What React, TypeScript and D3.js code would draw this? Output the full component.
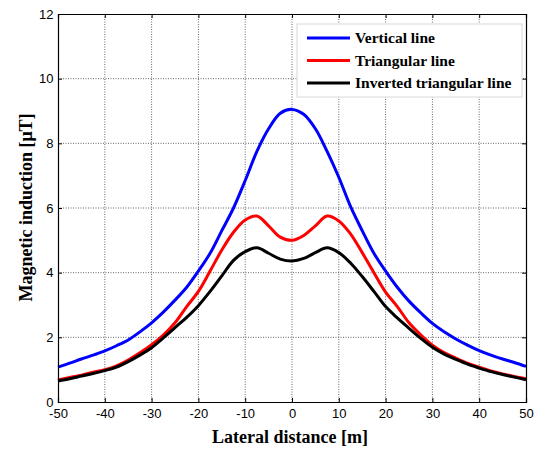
import React, { useRef, useEffect } from "react";
import * as d3 from "d3";

// lateral distance [m]
const distances = [
  -50, -47.5, -45, -42.5, -40, -37.5, -35, -32.5, -30, -27.5, -25, -22.5, -20, -17.5, -15, -12.5, -10, -7.5, -5, -2.5,
  0, 2.5, 5, 7.5, 10, 12.5, 15, 17.5, 20, 22.5, 25, 27.5, 30, 32.5, 35, 37.5, 40, 42.5, 45, 47.5, 50,
];

// magnetic induction [uT]
const verticalLine = [
  1.08, 1.2, 1.33, 1.45, 1.58, 1.74, 1.92, 2.17, 2.45, 2.78, 3.15, 3.55, 4.05, 4.6, 5.3, 6.0, 6.85, 7.75, 8.45, 8.93,
  9.05, 8.9, 8.45, 7.75, 6.95, 6.05, 5.3, 4.6, 4.05, 3.55, 3.12, 2.76, 2.43, 2.17, 1.95, 1.76, 1.59, 1.45, 1.33, 1.22, 1.1,
];
const triangularLine = [
  0.68, 0.76, 0.83, 0.92, 1.0, 1.12, 1.3, 1.52, 1.77, 2.07, 2.45, 2.95, 3.42, 4.05, 4.7, 5.25, 5.63, 5.75, 5.45, 5.1,
  5.0, 5.15, 5.45, 5.75, 5.6, 5.2, 4.62, 4.0, 3.4, 2.95, 2.45, 2.08, 1.76, 1.53, 1.36, 1.2, 1.08, 0.96, 0.87, 0.79, 0.72,
];
const invertedLine = [
  0.65, 0.72, 0.8, 0.88, 0.97, 1.08, 1.25, 1.45, 1.68, 1.98, 2.3, 2.62, 2.98, 3.42, 3.9, 4.38, 4.65, 4.77, 4.6, 4.42,
  4.36, 4.44, 4.62, 4.77, 4.62, 4.3, 3.88, 3.42, 2.95, 2.6, 2.28, 1.97, 1.69, 1.48, 1.32, 1.17, 1.05, 0.94, 0.85, 0.77, 0.69,
];

const seriesNames = ["Vertical line", "Triangular line", "Inverted triangular line"];
const seriesColors = ["#0000ff", "#ff0000", "#000000"];
const xTicks = [-50, -40, -30, -20, -10, 0, 10, 20, 30, 40, 50];
const yTicks = [0, 2, 4, 6, 8, 10, 12];

const serif = "'Liberation Serif', 'Times New Roman', serif";
const sans = "'Liberation Sans', Arial, sans-serif";

export default function App() {
  const ref = useRef<SVGSVGElement>(null);

  useEffect(() => {
    const width = 535;
    const height = 450;
    const margin = { top: 14, right: 9, bottom: 48, left: 58 };
    const w = width - margin.left - margin.right;
    const h = height - margin.top - margin.bottom;

    const svg = d3.select(ref.current);
    svg.selectAll("*").remove();
    svg.attr("width", width).attr("height", height);

    svg.append("rect").attr("width", width).attr("height", height).attr("fill", "#fff");

    const g = svg.append("g").attr("transform", `translate(${margin.left},${margin.top})`);

    const x = d3.scaleLinear().domain([-50, 50]).range([0, w]);
    const y = d3.scaleLinear().domain([0, 12]).range([h, 0]);

    // grid (dotted, matlab style)
    g.selectAll(".gx")
      .data(xTicks.slice(1, -1))
      .enter()
      .append("line")
      .attr("x1", d => x(d))
      .attr("x2", d => x(d))
      .attr("y1", 0)
      .attr("y2", h)
      .attr("stroke", "#666")
      .attr("stroke-width", 1)
      .attr("stroke-dasharray", "1,1.5");
    g.selectAll(".gy")
      .data(yTicks.slice(1, -1))
      .enter()
      .append("line")
      .attr("x1", 0)
      .attr("x2", w)
      .attr("y1", d => y(d))
      .attr("y2", d => y(d))
      .attr("stroke", "#666")
      .attr("stroke-width", 1)
      .attr("stroke-dasharray", "1,1.5");

    // curves
    const allSeries = [verticalLine, triangularLine, invertedLine];
    const line = d3
      .line<number>()
      .x((_, i) => x(distances[i]))
      .y(d => y(d))
      .curve(d3.curveCatmullRom.alpha(0.5));

    allSeries.forEach((s, k) => {
      g.append("path")
        .datum(s)
        .attr("d", line)
        .attr("fill", "none")
        .attr("stroke", seriesColors[k])
        .attr("stroke-width", 3)
        .attr("stroke-linejoin", "round");
    });

    // axes box with inward ticks
    const tickLen = 4;
    const fmt = (d: any) => String(d);
    const bottomAxis = d3.axisBottom(x).tickValues(xTicks).tickSize(-tickLen).tickPadding(7).tickFormat(fmt);
    const leftAxis = d3.axisLeft(y).tickValues(yTicks).tickSize(-tickLen).tickPadding(4.5).tickFormat(fmt);
    const topAxis = d3.axisTop(x).tickValues(xTicks).tickSize(-tickLen).tickFormat(() => "");
    const rightAxis = d3.axisRight(y).tickValues(yTicks).tickSize(-tickLen).tickFormat(() => "");

    const styleAxis = (sel: any) => {
      sel.select(".domain").attr("stroke", "#000").attr("stroke-width", 1.2);
      sel.selectAll(".tick line").attr("stroke", "#000");
      sel.selectAll(".tick text")
        .attr("fill", "#000")
        .style("font-family", sans)
        .style("font-size", "13px");
    };

    g.append("g").attr("transform", `translate(0,${h})`).call(bottomAxis).call(styleAxis);
    g.append("g").call(leftAxis).call(styleAxis);
    g.append("g").call(topAxis).call(styleAxis);
    g.append("g").attr("transform", `translate(${w},0)`).call(rightAxis).call(styleAxis);

    // axis labels
    svg.append("text")
      .attr("x", 290)
      .attr("y", 443)
      .attr("text-anchor", "middle")
      .style("font-family", serif)
      .style("font-weight", "bold")
      .style("font-size", "18px")
      .text("Lateral distance [m]");

    svg.append("text")
      .attr("transform", `translate(32,207.5) rotate(-90)`)
      .attr("text-anchor", "middle")
      .style("font-family", serif)
      .style("font-weight", "bold")
      .style("font-size", "18px")
      .text("Magnetic induction [\u03bcT]");

    // legend
    const lg = svg.append("g").attr("transform", "translate(297,24)");
    lg.append("rect")
      .attr("width", 225)
      .attr("height", 73)
      .attr("fill", "#fff")
      .attr("stroke", "#d8d8d8")
      .attr("stroke-width", 1);

    const items = lg
      .selectAll("g.item")
      .data(seriesNames)
      .enter()
      .append("g")
      .attr("class", "item")
      .attr("transform", (_, i) => `translate(0,${14 + i * 22.5})`);

    items.append("line")
      .attr("x1", 10)
      .attr("x2", 53)
      .attr("y1", 0)
      .attr("y2", 0)
      .attr("stroke", (_, i) => seriesColors[i])
      .attr("stroke-width", 3);

    items.append("text")
      .attr("x", 58)
      .attr("y", 5)
      .style("font-family", serif)
      .style("font-weight", "bold")
      .style("font-size", "15.5px")
      .text(d => d);
  }, []);

  return <svg ref={ref} style={{ position: "absolute", left: 0, top: 0 }}></svg>;
}
